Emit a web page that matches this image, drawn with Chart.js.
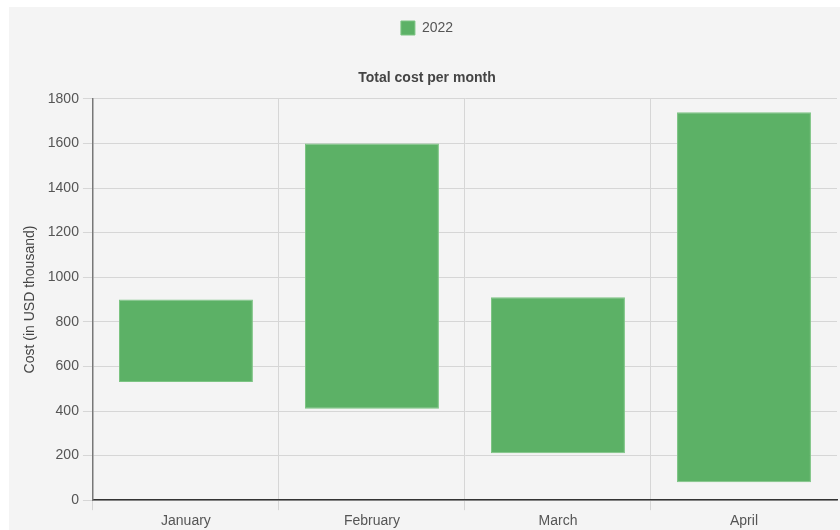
<!DOCTYPE html>
<html>
<head>
<meta charset="utf-8">
<script src="https://cdn.jsdelivr.net/npm/chart.js@4"></script>
<style>
    body { margin: 0; background: #ffffff; overflow: hidden; }
    .chart-box {
        position: absolute;
        left: 9px;
        top: 7px;
        width: 831px;
        height: 526px;
        background: #f4f4f4;
    }
</style>
</head>
<body>
<div class="chart-box">
    <canvas id="costChart"></canvas>
</div>
<script>
// Данные
const months = ['January', 'February', 'March', 'April'];
const costLow = [530, 410, 210, 80];
const costHigh = [900, 1600, 910, 1740];
const yTicks = [0, 200, 400, 600, 800, 1000, 1200, 1400, 1600, 1800];

Chart.defaults.font.family = '"Liberation Sans", Arial, sans-serif';
Chart.defaults.font.size = 14;
Chart.defaults.color = '#555';

const ctx = document.getElementById('costChart');
new Chart(ctx, {
    type: 'bar',
    data: {
        labels: months,
        datasets: [{
            label: '2022',
            data: months.map((m, i) => [costLow[i], costHigh[i]]),
            backgroundColor: '#5cb166',
            borderColor: '#7cc483',
            borderWidth: 1,
            borderSkipped: false
        }]
    },
    options: {
        responsive: true,
        maintainAspectRatio: false,
        animation: false,
        layout: {
            padding: { top: 2, right: 3, bottom: 0, left: 8 }
        },
        plugins: {
            legend: {
                weight: 3000,
                labels: {
                    boxWidth: 14,
                    boxHeight: 14,
                    color: '#555',
                    padding: 12
                }
            },
            title: {
                display: true,
                weight: 500,
                text: 'Total cost per month',
                color: '#444',
                font: { size: 14, weight: 'bold' },
                padding: { top: 25, bottom: 12 }
            }
        },
        scales: {
            x: {
                grid: {
                    // без линии у правого края
                    color: c => c.type === 'tick' ? '#d6d6d6' : 'transparent',
                    tickLength: 10
                },
                border: { color: '#333', width: 1.5 },
                ticks: { color: '#555', padding: 3 }
            },
            y: {
                min: yTicks[0],
                max: yTicks[yTicks.length - 1],
                afterBuildTicks: axis => {
                    axis.ticks = yTicks.map(v => ({ value: v }));
                },
                grid: {
                    color: '#d6d6d6',
                    tickLength: 10
                },
                border: { color: '#777', width: 1.5 },
                ticks: {
                    color: '#555',
                    padding: 4,
                    callback: value => String(value)
                },
                title: {
                    display: true,
                    text: 'Cost (in USD thousand)',
                    color: '#444',
                    font: { size: 14 },
                    padding: { top: 5, bottom: 5 }
                }
            }
        }
    }
});
</script>
</body>
</html>
